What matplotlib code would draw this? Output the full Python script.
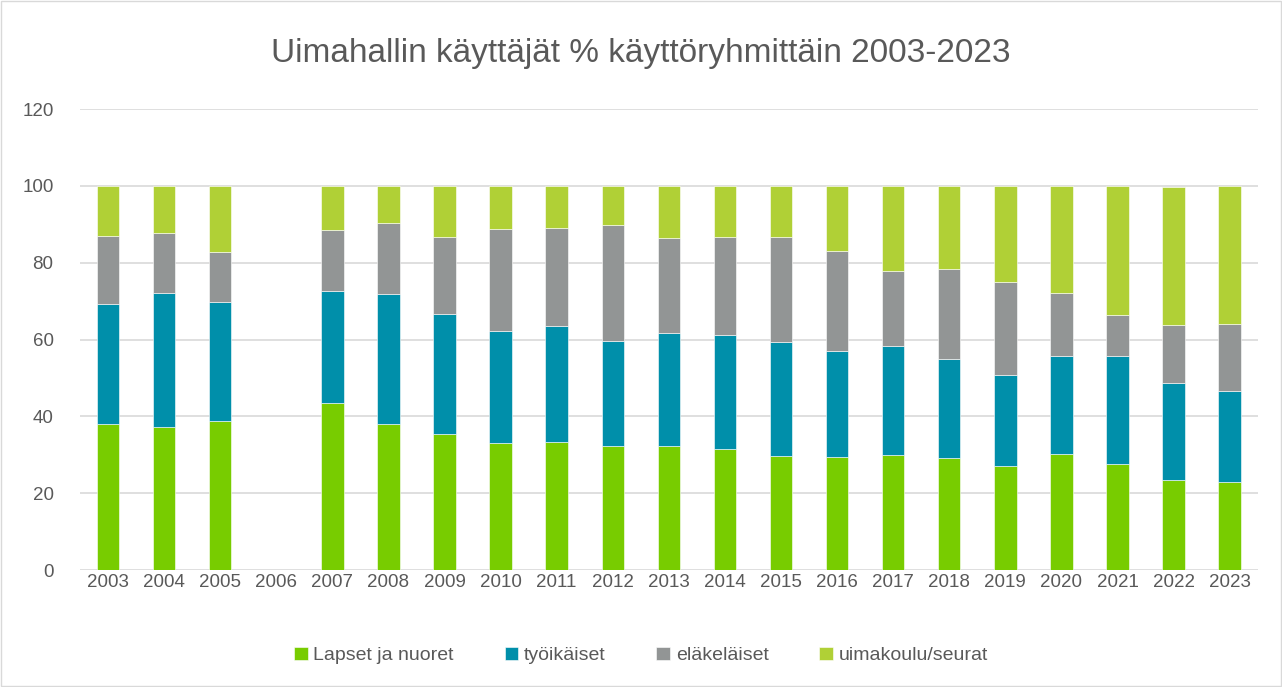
import numpy as np
import matplotlib
matplotlib.use('Agg')
import matplotlib.pyplot as plt
from matplotlib.patches import Rectangle

plt.rcParams['font.family'] = ['Liberation Sans', 'DejaVu Sans']

# --- Data (percent) ---
years = [str(y) for y in range(2003, 2024)]
lapset = [38.1, 37.1, 38.7, np.nan, 43.4, 38.1, 35.4, 33.1, 33.3, 32.4, 32.2,
          31.4, 29.8, 29.5, 30.0, 29.1, 27.0, 30.3, 27.7, 23.5, 22.9]
tyoikaiset = [31.2, 35.0, 31.0, np.nan, 29.2, 33.8, 31.2, 29.1, 30.1, 27.3, 29.5,
              29.7, 29.5, 27.5, 28.3, 25.9, 23.7, 25.4, 28.0, 25.2, 23.7]
elakelaiset = [17.7, 15.6, 13.2, np.nan, 15.9, 18.5, 20.2, 26.6, 25.6, 30.2, 24.6,
               25.7, 27.4, 26.1, 19.5, 23.4, 24.2, 16.4, 10.7, 15.0, 17.4]
uimakoulu = [13.0, 12.3, 17.1, np.nan, 11.5, 9.6, 13.2, 11.2, 11.0, 10.1, 13.7,
             13.2, 13.3, 16.9, 22.2, 21.6, 25.1, 27.9, 33.6, 36.0, 36.0]

series = [('Lapset ja nuoret', lapset, '#78CC00'),
          ('työikäiset', tyoikaiset, '#008FAA'),
          ('eläkeläiset', elakelaiset, '#929595'),
          ('uimakoulu/seurat', uimakoulu, '#B0D036')]

fig = plt.figure(figsize=(12.82, 6.87), dpi=100)
ax = fig.add_axes([0.0624, 0.1703, 0.9186, 0.671])

x = np.arange(len(years))
bottom = np.zeros(len(years))
for label, vals, color in series:
    v = np.array(vals, dtype=float)
    ax.bar(x, v, 0.4, bottom=bottom, color=color, label=label, zorder=3,
           edgecolor='white', linewidth=0.4)
    bottom = bottom + np.nan_to_num(v)

ax.set_xlim(-0.5, len(years) - 0.5)
ax.set_ylim(0, 120)
ax.set_yticks(range(0, 121, 20))
ax.set_xticks(x)
ax.set_xticklabels(years)
ax.grid(axis='y', color='#D9D9D9', linewidth=1.2, zorder=0)
for s in ax.spines.values():
    s.set_visible(False)
ax.tick_params(length=0, labelsize=13.5, colors='#595959', pad=3)
ax.tick_params(axis='y', pad=19)

fig.text(0.5, 0.922, 'Uimahallin käyttäjät % käyttöryhmittäin 2003-2023',
         ha='center', va='center', fontsize=24, color='#595959')

leg = fig.legend(loc='center', bbox_to_anchor=(0.5, 0.046), ncol=4, frameon=False,
                 fontsize=14, handlelength=0.7, handleheight=0.7,
                 handletextpad=0.3, columnspacing=2.6)
for t in leg.get_texts():
    t.set_color('#595959')

fig.patches.append(Rectangle((0.001, 0.001), 0.998, 0.997, transform=fig.transFigure,
                             fill=False, edgecolor='#D9D9D9', linewidth=1))

plt.savefig('out.png', dpi=100)
